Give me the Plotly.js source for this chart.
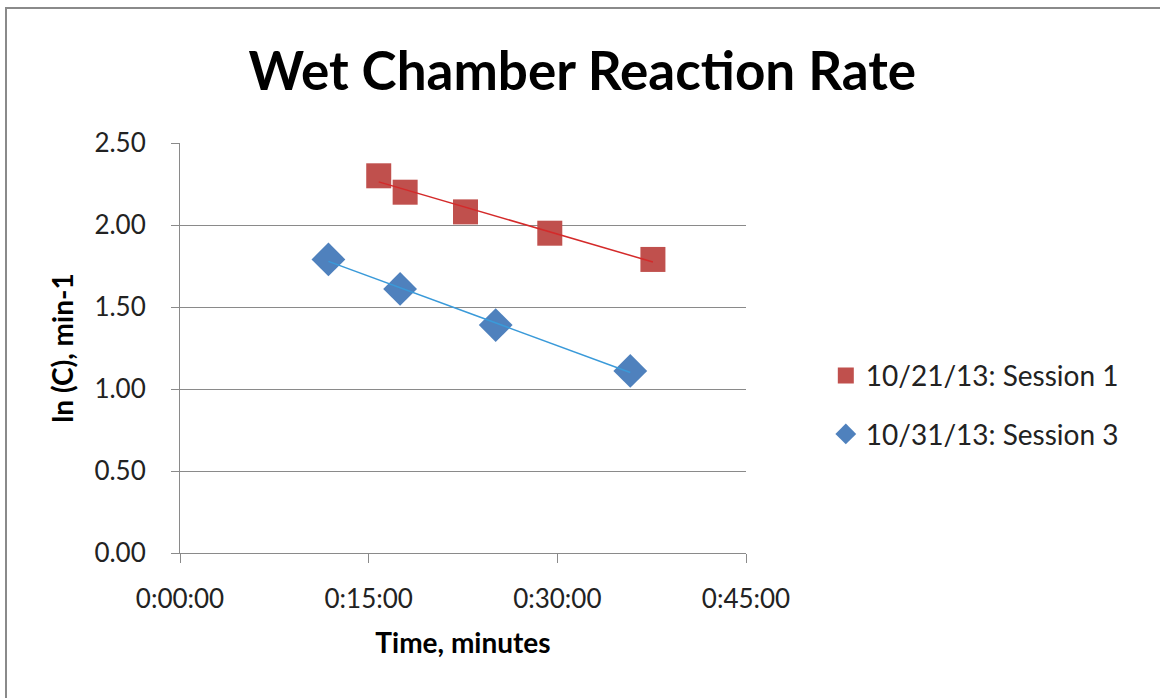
<!DOCTYPE html>
<html>
<head>
<meta charset="utf-8">
<script src="https://cdn.plot.ly/plotly-3.0.1.min.js"></script>
<style>
  html, body { margin: 0; padding: 0; background: #fff; }
  #wrap { position: relative; width: 1160px; height: 698px; overflow: hidden; }
  #chart { position: absolute; left: 0; top: 0; width: 1160px; height: 698px; }
  #frame { position: absolute; left: 5px; top: 7px; width: 1160px; height: 720px;
           border: 2px solid #8a8a8a; box-sizing: border-box; pointer-events: none; }
</style>
</head>
<body>
<div id="wrap">
  <div id="chart"></div>
  <div id="frame"></div>
</div>
<script>
// Data (time in minutes, value ln(C))
const session1Name = "10/21/13: Session 1";
const session1Time = [15.8, 17.9, 22.7, 29.4, 37.6];
const session1Vals = [2.30, 2.20, 2.08, 1.95, 1.79];

const session3Name = "10/31/13: Session 3";
const session3Time = [11.8, 17.5, 25.1, 35.8];
const session3Vals = [1.79, 1.61, 1.39, 1.11];

const xTickVals = [0, 15, 30, 45];
const xTickText = ["0:00:00", "0:15:00", "0:30:00", "0:45:00"];

function linFit(xs, ys) {
  const n = xs.length;
  const mx = xs.reduce((a, b) => a + b, 0) / n;
  const my = ys.reduce((a, b) => a + b, 0) / n;
  let sxy = 0, sxx = 0;
  for (let i = 0; i < n; i++) { sxy += (xs[i] - mx) * (ys[i] - my); sxx += (xs[i] - mx) ** 2; }
  const m = sxy / sxx, b = my - m * mx;
  const x0 = Math.min(...xs), x1 = Math.max(...xs);
  return { x: [x0, x1], y: [m * x0 + b, m * x1 + b] };
}

const fit1 = linFit(session1Time, session1Vals);
const fit3 = linFit(session3Time, session3Vals);

const FONT = "Lato, 'Open Sans', sans-serif";

const traces = [
  {
    x: session1Time, y: session1Vals, type: "scatter", mode: "markers",
    name: session1Name, legendgroup: "s1",
    marker: { symbol: "square", size: 25, color: "#C0504D" }
  },
  {
    x: session3Time, y: session3Vals, type: "scatter", mode: "markers",
    name: session3Name, legendgroup: "s3",
    marker: { symbol: "diamond", size: 26, color: "#4F81BD" }
  },
  {
    x: fit1.x, y: fit1.y, type: "scatter", mode: "lines", showlegend: false,
    line: { color: "#D42A2A", width: 1.5 }, hoverinfo: "skip"
  },
  {
    x: fit3.x, y: fit3.y, type: "scatter", mode: "lines", showlegend: false,
    line: { color: "#3A9AD9", width: 1.5 }, hoverinfo: "skip"
  }
];

const layout = {
  width: 1160, height: 698,
  paper_bgcolor: "#ffffff", plot_bgcolor: "#ffffff",
  margin: { l: 180, r: 414, t: 143, b: 145 },
  font: { family: FONT, color: "#000", size: 26 },
  title: {
    text: "<b>Wet Chamber Reaction Rate</b>",
    font: { family: FONT, size: 53, color: "#000" },
    xref: "container", x: 0.502, xanchor: "center",
    yref: "container", y: 0.897, yanchor: "middle"
  },
  xaxis: {
    range: [0, 45], tickvals: xTickVals, ticktext: xTickText,
    showgrid: false, zeroline: false,
    showline: true, linecolor: "#8a8a8a", linewidth: 1,
    ticks: "outside", ticklen: 9, tickcolor: "#8a8a8a",
    ticklabelstandoff: 14,
    tickfont: { family: FONT, size: 26, color: "#222" },
    title: { text: "<b>Time, minutes</b>", font: { family: FONT, size: 28, color: "#000" }, standoff: 20 }
  },
  yaxis: {
    range: [0, 2.5], dtick: 0.5, tick0: 0, tickformat: ".2f",
    showgrid: true, gridcolor: "#8a8a8a", gridwidth: 1, zeroline: false,
    showline: true, linecolor: "#8a8a8a", linewidth: 1,
    ticks: "outside", ticklen: 8, tickcolor: "#8a8a8a",
    ticklabelstandoff: 20,
    tickfont: { family: FONT, size: 26, color: "#222" },
    title: { text: "<b>ln (C), min-1</b>", font: { family: FONT, size: 28, color: "#000" }, standoff: 12 }
  },
  showlegend: true,
  legend: {
    x: 1.141, xanchor: "left", y: 0.493, yanchor: "top",
    font: { family: FONT, size: 28, color: "#222" },
    tracegroupgap: 19, traceorder: "grouped",
    itemwidth: 30, bgcolor: "rgba(0,0,0,0)"
  }
};

Plotly.newPlot("chart", traces, layout, { displayModeBar: false, staticPlot: true });
</script>
</body>
</html>
